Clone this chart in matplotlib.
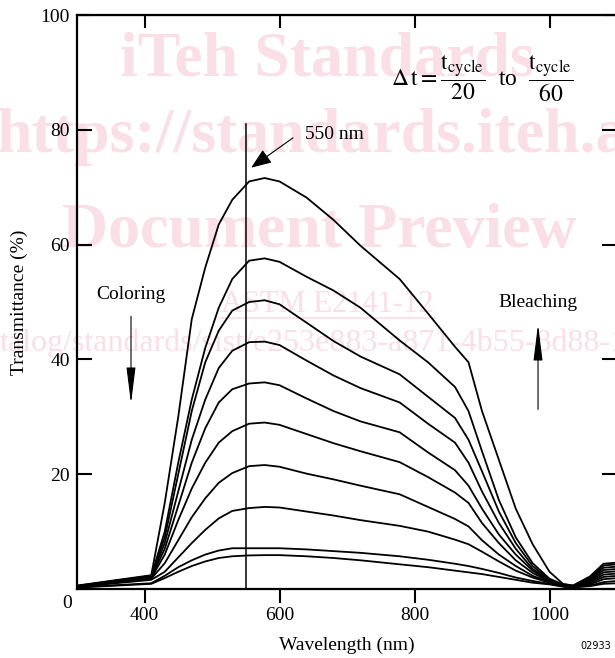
import matplotlib
matplotlib.use('Agg')
import matplotlib.pyplot as plt
from matplotlib.lines import Line2D
from matplotlib.transforms import ScaledTranslation

# 파장 (nm)
wavelength = [300, 410, 430, 450, 470, 490, 510, 530, 555, 578, 600, 640, 680, 720,
              778, 820, 860, 880, 900, 925, 950, 975, 1000, 1020, 1035, 1060, 1080, 1100]

# 투과율 (%) - 위쪽 곡선부터 아래쪽 곡선 순서
trans_1 = [0.6, 2.4, 15, 30, 47, 56, 63.5, 67.8, 71, 71.6, 71, 68.2, 64.3, 59.8,
           54, 48, 42.2, 39.5, 31, 22.5, 14, 7.8, 3, 0.9, 0.6, 2.2, 4.4, 4.6]
trans_2 = [0.55, 2.3, 10, 22, 33, 42, 49, 54, 57.2, 57.6, 57, 54.4, 52, 49,
           43.3, 39.5, 35.2, 31, 24, 15.5, 9, 4.5, 1.8, 0.8, 0.6, 2.0, 4.1, 4.3]
trans_3 = [0.5, 2.2, 9, 20, 31, 39.5, 45, 48.5, 50, 50.3, 49.6, 46.4, 43.2, 40.5,
           37.4, 33.5, 29.8, 26, 20.5, 13.5, 8, 4, 1.6, 0.7, 0.5, 1.8, 3.7, 3.9]
trans_4 = [0.5, 2.1, 8, 17, 26, 33, 38.5, 41.5, 43, 43.1, 42.5, 39.8, 37.2, 35,
           32.5, 28.8, 25.5, 22, 17, 11.5, 7, 3.5, 1.5, 0.6, 0.5, 1.6, 3.3, 3.5]
trans_5 = [0.45, 2.0, 7, 14.5, 22, 28, 32.5, 34.8, 35.8, 36, 35.5, 33.2, 31, 29.2,
           27.3, 23.8, 20.7, 18, 14, 9.5, 6, 3.2, 1.4, 0.6, 0.4, 1.4, 2.9, 3.1]
trans_6 = [0.4, 1.9, 6, 12, 17.5, 22, 25.5, 27.5, 28.8, 29, 28.6, 27, 25.4, 24,
           22.1, 19.5, 16.8, 15, 11.5, 8, 5, 2.8, 1.3, 0.5, 0.4, 1.2, 2.5, 2.7]
trans_7 = [0.4, 1.8, 4.5, 8.5, 12.5, 15.8, 18.5, 20.2, 21.4, 21.6, 21.3, 20.1, 19.1, 18,
           16.5, 14.3, 12.2, 10.9, 8.5, 6, 4, 2.3, 1.2, 0.5, 0.4, 1.0, 2.1, 2.3]
trans_8 = [0.35, 1.6, 3, 5.5, 8, 10.3, 12.3, 13.6, 14.1, 14.3, 14.2, 13.5, 12.8, 12,
           11, 10, 8.6, 7.8, 6.5, 4.8, 3.2, 2, 1.1, 0.5, 0.3, 0.8, 1.7, 1.9]
trans_9 = [0.3, 1.0, 2.3, 3.8, 5.0, 6.0, 6.7, 7.1, 7.1, 7.1, 7.1, 6.9, 6.6, 6.3,
           5.7, 5.1, 4.4, 4.0, 3.5, 2.8, 2.0, 1.4, 0.9, 0.5, 0.3, 0.6, 1.2, 1.4]
trans_10 = [0.25, 0.9, 1.9, 3.0, 4.0, 4.8, 5.4, 5.7, 5.85, 5.9, 5.9, 5.7, 5.4, 5.0,
            4.3, 3.8, 3.2, 2.9, 2.6, 2.1, 1.6, 1.1, 0.8, 0.4, 0.3, 0.5, 0.9, 1.0]
curves = [trans_1, trans_2, trans_3, trans_4, trans_5,
          trans_6, trans_7, trans_8, trans_9, trans_10]

x_ticks = [400, 600, 800, 1000]
y_ticks = [0, 20, 40, 60, 80, 100]
marker_wl = 550

SERIF = ['Liberation Serif', 'DejaVu Serif']
WM_COLOR = '#fadfe6'
W, H = 615, 658

plt.rcParams['font.family'] = SERIF
plt.rcParams['mathtext.fontset'] = 'stix'


# 픽셀 좌표 -> figure 좌표
def fxy(px, py):
    return px / W, 1 - py / H


def draw_watermark(fig):
    # 배경 워터마크 (축 뒤에 그림)
    kw = dict(color=WM_COLOR, zorder=-5, va='center', fontfamily=SERIF)
    fig.text(*fxy(327, 60), 'iTeh Standards', ha='center', fontsize=46, weight='bold', **kw)
    fig.text(*fxy(-4, 137), 'https://standards.iteh.ai', ha='left', fontsize=46, weight='bold', **kw)
    fig.text(*fxy(319, 232), 'Document Preview', ha='center', fontsize=46, weight='bold', **kw)
    fig.text(*fxy(327, 304), 'ASTM E2141-12', ha='center', fontsize=22, **kw)
    x0, y0 = fxy(220, 318)
    x1, _ = fxy(435, 318)
    fig.add_artist(Line2D([x0, x1], [y0, y0], color=WM_COLOR, lw=1.2, zorder=-5))
    fig.text(*fxy(0, 343), 'talog/standards/sist/e253e883-a871-4b55-8d88-1',
             ha='left', fontsize=23, **kw)


def main():
    fig = plt.figure(figsize=(W / 100, H / 100), dpi=100)
    draw_watermark(fig)

    # 축 위치 (오른쪽 테두리는 그림 밖으로 살짝 잘림)
    ax = fig.add_axes([77 / W, 1 - 589 / H, 540 / W, 574 / H])
    ax.set_facecolor('none')

    for trans in curves:
        ax.plot(wavelength, trans, color='black', lw=1.3, solid_joinstyle='round')

    # 550 nm 기준선
    ax.plot([marker_wl, marker_wl], [0, 81], color='black', lw=1.1)

    ax.set_xlim(300, 1100)
    ax.set_ylim(0, 100)
    ax.set_xticks(x_ticks)
    ax.set_yticks(y_ticks)
    ax.tick_params(axis='x', direction='out', length=10, width=1.5, pad=3,
                   labelsize=14, top=False)
    ax.tick_params(axis='y', direction='in', length=11, width=1.5, pad=5,
                   labelsize=14, right=True)
    for sp in ax.spines.values():
        sp.set_linewidth(1.6)

    top = ax.secondary_xaxis('top')
    top.set_xticks(x_ticks)
    top.tick_params(direction='in', length=9, width=1.5, labeltop=False)

    # 0 라벨은 원본처럼 아래로 내림
    zero_lbl = ax.yaxis.get_major_ticks()[0].label1
    zero_lbl.set_transform(zero_lbl.get_transform() +
                           ScaledTranslation(0.02, -0.13, fig.dpi_scale_trans))

    ax.set_xlabel('Wavelength (nm)', fontsize=14, labelpad=9)
    ax.set_ylabel('Transmittance (%)', fontsize=14, labelpad=9)

    # 주석
    ax.annotate('', xy=(558, 73.4), xytext=(620, 78.6),
                arrowprops=dict(arrowstyle='-|>,head_length=0.9,head_width=0.35',
                                color='black', lw=0.8, shrinkA=0, shrinkB=0,
                                mutation_scale=14))
    ax.text(638, 79.2, '550 nm', fontsize=14, ha='left', va='center')

    ax.text(380, 51.3, 'Coloring', fontsize=14, ha='center', va='center')
    ax.annotate('', xy=(380, 32.3), xytext=(380, 47.5),
                arrowprops=dict(arrowstyle='-|>,head_length=1.6,head_width=0.2',
                                color='black', lw=0.8, shrinkA=0, shrinkB=0,
                                mutation_scale=14))

    ax.text(983, 49.9, 'Bleaching', fontsize=14, ha='center', va='center')
    ax.annotate('', xy=(983, 46.1), xytext=(983, 31.3),
                arrowprops=dict(arrowstyle='-|>,head_length=1.6,head_width=0.2',
                                color='black', lw=0.8, shrinkA=0, shrinkB=0,
                                mutation_scale=14))

    ax.text(900, 89,
            r'$\Delta\,\mathrm{t} = \dfrac{\mathrm{t_{cycle}}}{\mathrm{20}}$  to  '
            r'$\dfrac{\mathrm{t_{cycle}}}{\mathrm{60}}$',
            fontsize=17, ha='center', va='center')

    fig.text(*fxy(580, 646), '02933', fontsize=7, fontfamily='DejaVu Sans',
             ha='left', va='center')

    fig.savefig('out.png', dpi=100)


if __name__ == "__main__":
    main()
